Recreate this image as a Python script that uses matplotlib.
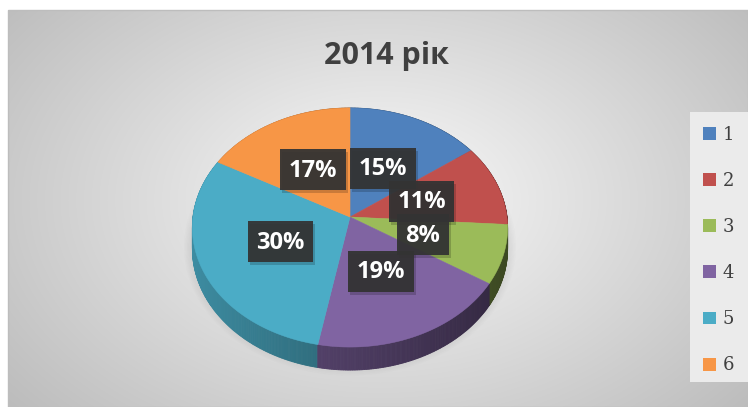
import numpy as np
import matplotlib.pyplot as plt
import matplotlib.colors as mcolors
from matplotlib.patches import Polygon, Rectangle, Patch, Ellipse

TITLE = "2014 рік"
CATEGORIES = ["1", "2", "3", "4", "5", "6"]
SHARES = [15, 11, 8, 19, 30, 17]
COLORS = ["#4f81bd", "#c0504d", "#9bbb59", "#8064a2", "#4bacc6", "#f79646"]

W, H = 748, 407
CX, CY = 350, 217          # projected pie centre (pixels)
RX, RY, K = 157, 118.6, 0.088  # radii and perspective factor
DEPTH = 21
LABEL_R = 0.48


def project(theta, r=1.0, dz=0.0):
    s = 1 + K * r * np.sin(theta)
    x = CX + RX * r * np.cos(theta) / s
    y = CY - RY * r * np.sin(theta) / s + dz / s
    return x, y


def shade(color, f):
    rgb = np.array(mcolors.to_rgb(color))
    return tuple(np.clip(rgb * f, 0, 1))


fig = plt.figure(figsize=(W / 100, H / 100), dpi=100)
ax = fig.add_axes([0, 0, 1, 1])
ax.set_xlim(0, W)
ax.set_ylim(H, 0)
ax.axis("off")

# ---------- chart area background (radial grey gradient)
gx, gy = np.meshgrid(np.arange(8, W), np.arange(10, H))
d = np.sqrt(((gx - 380) / 390.0) ** 2 + ((gy - 200) / 260.0) ** 2)
val = np.clip(250 - 50 * d, 185, 252) / 255.0
ax.imshow(np.dstack([val, val, val]), extent=(8, W, H, 10), aspect="auto",
          zorder=0, interpolation="bilinear")
ax.add_patch(Rectangle((8, 10), W - 8, H - 10, fill=False,
                       edgecolor="#bdbdbd", lw=1.0, zorder=1))

# soft shadow under the pie
for i in range(6):
    ax.add_patch(Ellipse((CX, CY + 30), 2 * RX + 18 - 3 * i,
                         2 * RY + 20 - 3 * i, facecolor="#808080",
                         edgecolor="none", alpha=0.025, zorder=2))

# ---------- slices
fr = np.array(SHARES, dtype=float) / sum(SHARES)
cum = np.concatenate([[0], np.cumsum(fr)])
starts = np.deg2rad(90 - 360 * cum[:-1])
ends = np.deg2rad(90 - 360 * cum[1:])

# side walls: small quads, drawn back to front
quads = []
for t1, t2, c in zip(starts, ends, COLORS):
    th = np.linspace(t1, t2, max(int(abs(t2 - t1) / 0.01), 2))
    for a, b in zip(th[:-1], th[1:]):
        m = 0.5 * (a + b)
        xa, ya = project(a)
        xb, yb = project(b)
        xa2, ya2 = project(a, dz=DEPTH)
        xb2, yb2 = project(b, dz=DEPTH)
        f = 0.6 - 0.22 * np.cos(m)
        quads.append((np.sin(m), [(xa, ya), (xb, yb), (xb2, yb2), (xa2, ya2)],
                      shade(c, f)))
quads.sort(key=lambda q: -q[0])
for _, pts, col in quads:
    ax.add_patch(Polygon(pts, closed=True, facecolor=col, edgecolor=col,
                         lw=0.6, zorder=3))

# top faces
for t1, t2, c in zip(starts, ends, COLORS):
    th = np.linspace(t1, t2, 200)
    xs, ys = project(th)
    pts = [(CX, CY)] + list(zip(xs, ys))
    ax.add_patch(Polygon(pts, closed=True, facecolor=c, edgecolor=c,
                         lw=0.4, zorder=4))

# data labels (dark boxes sized from the text extent)
labels = []
for t1, t2, v in zip(starts, ends, SHARES):
    m = 0.5 * (t1 + t2)
    lx, ly = project(m, r=LABEL_R)
    t = ax.text(lx, ly + 1, f"{v}%", ha="center", va="center", color="white",
                fontsize=17, fontweight="bold",
                family=["Open Sans", "DejaVu Sans"], zorder=7)
    labels.append((t, lx, ly))

# ---------- title
ax.text(387, 56, TITLE, ha="center", va="center", fontsize=22,
        fontweight="bold", color="#404040",
        family=["Open Sans", "DejaVu Sans"], zorder=6)

# ---------- legend
ax.add_patch(Rectangle((690, 112), W - 690, 270, facecolor="#ebebeb",
                       edgecolor="none", zorder=1))
handles = [Patch(facecolor=c, edgecolor="none", label=l)
           for c, l in zip(COLORS, CATEGORIES)]
leg = ax.legend(handles=handles, loc="upper left",
                bbox_to_anchor=(690 / W, 1 - 113 / H), frameon=False,
                prop={"family": "DejaVu Serif", "size": 13},
                labelcolor="#404040", handlelength=0.72, handleheight=0.72,
                handletextpad=0.4, labelspacing=1.56, borderpad=0.2)
leg.set_zorder(7)

fig.canvas.draw()
renderer = fig.canvas.get_renderer()
for t, lx, ly in labels:
    bw = t.get_window_extent(renderer).width + 17
    bh = 41
    ax.add_patch(Rectangle((lx - bw / 2 + 2, ly - bh / 2 + 3), bw, bh,
                           facecolor="#000000", edgecolor="none", alpha=0.18,
                           zorder=5))
    ax.add_patch(Rectangle((lx - bw / 2, ly - bh / 2), bw, bh,
                           facecolor="#333333", edgecolor="none", alpha=0.94,
                           zorder=6))

fig.savefig("out.png", dpi=100)
